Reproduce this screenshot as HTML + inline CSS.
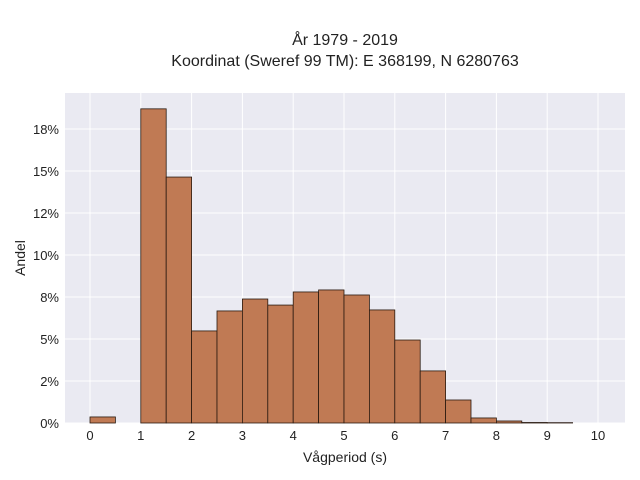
<!DOCTYPE html>
<html><head><meta charset="utf-8"><style>
body{margin:0;background:#fff;}
svg{display:block;font-family:"Liberation Sans",sans-serif;}
</style></head><body>
<svg id="c" width="640" height="480">
<text x="345" y="45" text-anchor="middle" font-size="16" fill="#222">År 1979 - 2019</text>
<text x="345" y="66" text-anchor="middle" font-size="16" fill="#222">Koordinat (Sweref 99 TM): E 368199, N 6280763</text>
<rect x="65" y="93" width="560" height="330" fill="#eaeaf2"/>
<g id="grid"></g><g id="bars"></g><g id="ticks"></g>
<text x="345" y="462" text-anchor="middle" font-size="14" fill="#222">Vågperiod (s)</text>
<text transform="translate(25,258) rotate(-90)" text-anchor="middle" font-size="14" fill="#222">Andel</text>
</svg>
<script>
const binStarts=[0,0.5,1,1.5,2,2.5,3,3.5,4,4.5,5,5.5,6,6.5,7,7.5,8,8.5,9,9.5];
const shares=[0.36,0,18.7,14.64,5.48,6.67,7.38,7.02,7.8,7.92,7.62,6.73,4.94,3.1,1.37,0.3,0.12,0.03,0.02,0];
const xTicks=[0,1,2,3,4,5,6,7,8,9,10];
const yTicks=[0,2.5,5,7.5,10,12.5,15,17.5];
const yLabels=["0%","2%","5%","8%","10%","12%","15%","18%"];
const binW=0.5;
const X=v=>90+v*50.8, Y=v=>423-v*16.8;
const NS="http://www.w3.org/2000/svg";
const mk=(p,t,a)=>{const e=document.createElementNS(NS,t);for(const k in a)e.setAttribute(k,a[k]);document.getElementById(p).appendChild(e);return e;};
xTicks.forEach((t,i)=>{
 const l=mk('grid','line',{x1:X(t),x2:X(t),y1:93,y2:423,stroke:'#fff','stroke-width':1});
 
 
 const tx=mk('ticks','text',{x:X(t),y:440,'text-anchor':'middle','font-size':13,fill:'#222'});
 tx.textContent=t;
 
 
});
yTicks.forEach((t,i)=>{
 const l=mk('grid','line',{x1:65,x2:625,y1:Y(t),y2:Y(t),stroke:'#fff','stroke-width':1});
 
 
 const tx=mk('ticks','text',{x:59,y:Y(t)+5,'text-anchor':'end','font-size':13,fill:'#222'});
 tx.textContent=yLabels[i];
 
 
});
binStarts.forEach((b,i)=>{
 if(shares[i]<=0)return;
 const r=mk('bars','rect',{x:X(b),y:Y(shares[i]),width:X(b+binW)-X(b),height:423-Y(shares[i]),fill:'#c07a54',stroke:'#2a1a10','stroke-width':0.8});
 
 
});
</script>
</body></html>
